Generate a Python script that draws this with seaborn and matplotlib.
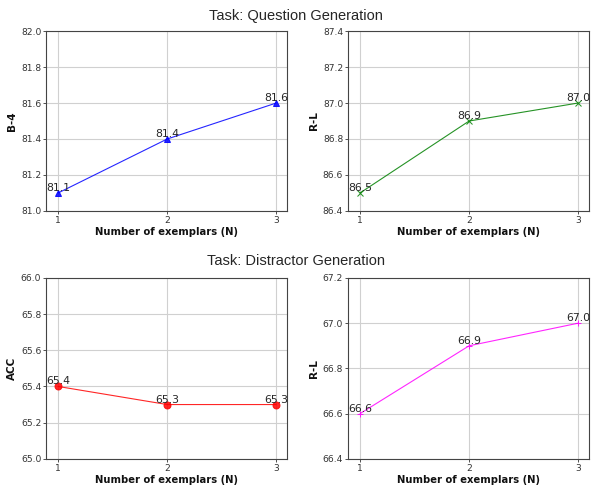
import matplotlib
matplotlib.use("Agg")
import matplotlib.pyplot as plt
from matplotlib.ticker import MultipleLocator
import seaborn as sns
import pandas as pd

# number of exemplars
n_exemplars = [1, 2, 3]

# question generation
qg_b4 = [81.1, 81.4, 81.6]
qg_rl = [86.5, 86.9, 87.0]

# distractor generation
dg_acc = [65.4, 65.3, 65.3]
dg_rl = [66.6, 66.9, 67.0]

panels = [
    (qg_b4, "B-4", "blue", "^", (81.0, 82.0)),
    (qg_rl, "R-L", "green", "x", (86.4, 87.4)),
    (dg_acc, "ACC", "red", "o", (65.0, 66.0)),
    (dg_rl, "R-L", "magenta", "+", (66.4, 67.2)),
]

sns.set_style("ticks")
plt.rcParams["font.family"] = ["DejaVu Sans"]

fig = plt.figure(figsize=(5.92, 4.86), dpi=100)
rects = [
    [0.078, 0.566, 0.407, 0.370],
    [0.588, 0.566, 0.407, 0.370],
    [0.078, 0.056, 0.407, 0.372],
    [0.588, 0.056, 0.407, 0.372],
]

for rect, (vals, ylabel, color, marker, ylim) in zip(rects, panels):
    ax = fig.add_axes(rect)
    df = pd.DataFrame({"N": n_exemplars, "score": vals})
    sns.lineplot(data=df, x="N", y="score", ax=ax, color=color, marker=marker,
                 linewidth=0.8, markersize=5, markeredgecolor=color,
                 markerfacecolor=color, alpha=0.85)
    for x, y in zip(n_exemplars, vals):
        ax.text(x, y, f"{y:.1f}", ha="center", va="bottom", fontsize=7.8)
    ax.set_xlim(0.89, 3.1)
    ax.set_ylim(*ylim)
    ax.set_xticks(n_exemplars)
    ax.yaxis.set_major_locator(MultipleLocator(0.2))
    ax.grid(True, color="#d0d0d0", linewidth=0.8)
    ax.tick_params(labelsize=6.6, length=2.5, width=0.6, pad=1, colors="#333333")
    for sp in ax.spines.values():
        sp.set_linewidth(0.8)
        sp.set_color("#444444")
    ax.set_xlabel("Number of exemplars (N)", fontsize=7.2, fontweight="bold",
                  labelpad=1.5, color="#111111")
    ax.set_ylabel(ylabel, fontsize=7.5, fontweight="bold", labelpad=2.5,
                  color="#111111")

fig.text(0.5, 0.968, "Task: Question Generation", ha="center", va="center",
         fontsize=10.5, family=["Liberation Sans", "DejaVu Sans"])
fig.text(0.5, 0.463, "Task: Distractor Generation", ha="center", va="center",
         fontsize=10.5, family=["Liberation Sans", "DejaVu Sans"])

fig.savefig("out.png", dpi=100)
